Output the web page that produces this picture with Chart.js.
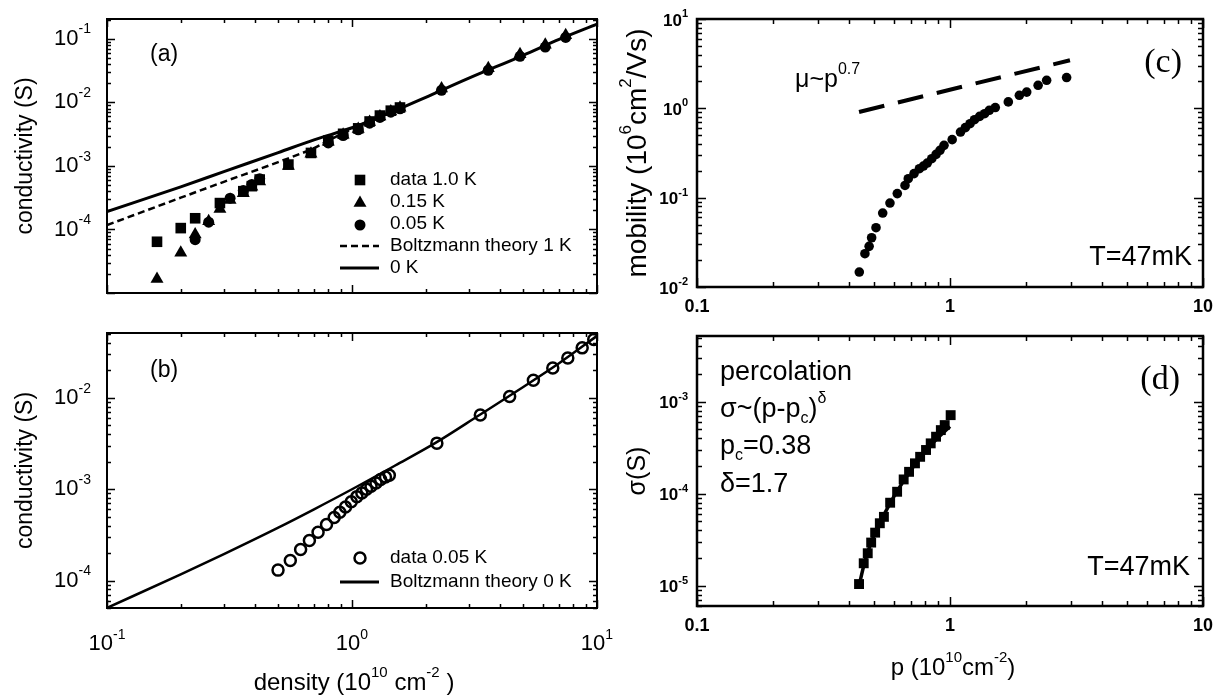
<!DOCTYPE html>
<html>
<head>
<meta charset="utf-8">
<script src="https://cdn.jsdelivr.net/npm/chart.js@4.4.1/dist/chart.umd.min.js"></script>
<style>
  html, body { margin: 0; padding: 0; background: #fff; }
  #wrap { position: relative; width: 1225px; height: 696px; overflow: hidden; }
  #wrap canvas { position: absolute; left: 0; top: 0; }
</style>
</head>
<body>
<div id="wrap">
  <canvas id="panel-a" width="1225" height="696"></canvas>
  <canvas id="panel-b" width="1225" height="696"></canvas>
  <canvas id="panel-c" width="1225" height="696"></canvas>
  <canvas id="panel-d" width="1225" height="696"></canvas>
</div>
<script>
// ---- panel (a): conductivity vs density, three temperatures + Boltzmann theory
const aDensity1K = [0.16, 0.20, 0.229, 0.289, 0.36, 0.39, 0.42, 0.55, 0.68, 0.80, 0.92, 1.06, 1.18, 1.30, 1.44, 1.57];
const aCond1K = [6.4e-5, 1.05e-4, 1.5e-4, 2.6e-4, 4.0e-4, 4.8e-4, 6.1e-4, 1.05e-3, 1.6e-3, 2.5e-3, 3.2e-3, 3.9e-3, 5.0e-3, 6.2e-3, 7.4e-3, 8.3e-3];
const aDensity015K = [0.16, 0.20, 0.229, 0.26, 0.289, 0.318, 0.36, 0.39, 0.42, 0.55, 0.68, 0.80, 0.92, 1.06, 1.18, 1.30, 1.44, 1.57, 2.32, 3.60, 4.85, 6.15, 7.45];
const aCond015K = [1.66e-5, 4.3e-5, 8.3e-5, 1.35e-4, 2.1e-4, 2.9e-4, 3.7e-4, 4.7e-4, 5.7e-4, 1.0e-3, 1.55e-3, 2.4e-3, 3.1e-3, 3.8e-3, 4.9e-3, 6.0e-3, 7.2e-3, 8.2e-3, 0.0165, 0.0345, 0.057, 0.081, 0.114];
const aDensity005K = [0.229, 0.26, 0.318, 0.36, 0.39, 0.42, 0.80, 0.92, 1.06, 1.18, 1.30, 1.44, 1.57, 2.32, 3.60, 4.85, 6.15, 7.45];
const aCond005K = [6.9e-5, 1.3e-4, 3.1e-4, 4.1e-4, 5.1e-4, 6.3e-4, 2.3e-3, 3.0e-3, 3.7e-3, 4.7e-3, 5.8e-3, 7.0e-3, 7.9e-3, 0.0155, 0.032, 0.053, 0.074, 0.105];
const aTheory1KX = [0.1, 0.2, 0.3, 0.5, 0.7, 0.85, 1.0, 1.2, 1.5];
const aTheory1KY = [1.17e-4, 3.16e-4, 5.62e-4, 1.15e-3, 1.91e-3, 2.82e-3, 3.80e-3, 5.25e-3, 7.41e-3];
const aTheory0KX = [0.1, 0.2, 0.3, 0.5, 0.7, 1.0, 1.5, 2.0, 3.0, 5.0, 7.0, 10];
const aTheory0KY = [1.91e-4, 4.68e-4, 8.13e-4, 1.62e-3, 2.57e-3, 3.98e-3, 7.41e-3, 0.0120, 0.0240, 0.0550, 0.0977, 0.170];

// ---- panel (b): 0.05 K data vs Boltzmann theory 0 K
const bDensity = [0.499, 0.560, 0.617, 0.670, 0.727, 0.787, 0.846, 0.892, 0.941, 0.993, 1.047, 1.097, 1.146, 1.196, 1.253, 1.309, 1.37, 1.42, 2.22, 3.34, 4.4, 5.5, 6.6, 7.6, 8.7, 9.7];
const bCond = [1.30e-4, 1.66e-4, 2.19e-4, 2.75e-4, 3.38e-4, 4.1e-4, 4.9e-4, 5.6e-4, 6.4e-4, 7.3e-4, 8.3e-4, 9.1e-4, 1.0e-3, 1.08e-3, 1.17e-3, 1.28e-3, 1.36e-3, 1.42e-3, 3.2e-3, 6.5e-3, 0.0104, 0.0156, 0.0213, 0.0274, 0.0354, 0.0436];
const bTheoryX = [0.1, 0.2, 0.3, 0.5, 0.7, 1.0, 1.5, 2.2, 3.3, 5, 7, 10];
const bTheoryY = [5.01e-5, 1.17e-4, 1.95e-4, 3.80e-4, 6.03e-4, 1.0e-3, 1.82e-3, 3.24e-3, 6.46e-3, 0.0132, 0.0240, 0.0479];

// ---- panel (c): mobility vs p at 47 mK
const cDensity = [0.438, 0.461, 0.479, 0.490, 0.510, 0.542, 0.579, 0.619, 0.664, 0.684, 0.721, 0.757, 0.785, 0.813, 0.847, 0.881, 0.913, 0.947, 1.02, 1.10, 1.15, 1.20, 1.25, 1.31, 1.37, 1.43, 1.51, 1.70, 1.88, 2.01, 2.23, 2.41, 2.89];
const cMobility = [0.0147, 0.0236, 0.0285, 0.0356, 0.0461, 0.0673, 0.087, 0.111, 0.137, 0.163, 0.186, 0.211, 0.226, 0.244, 0.273, 0.305, 0.339, 0.385, 0.446, 0.543, 0.608, 0.673, 0.746, 0.813, 0.871, 0.950, 1.02, 1.18, 1.40, 1.52, 1.81, 2.06, 2.21];
const cPowerX = [0.437, 2.98];
const cPowerY = [0.91, 3.45];

// ---- panel (d): percolation fit
const dDensity = [0.437, 0.456, 0.473, 0.488, 0.506, 0.528, 0.548, 0.580, 0.618, 0.656, 0.689, 0.727, 0.762, 0.804, 0.839, 0.881, 0.920, 0.953, 1.006];
const dSigma = [1.04e-5, 1.75e-5, 2.25e-5, 2.94e-5, 3.77e-5, 4.77e-5, 5.6e-5, 7.98e-5, 1.05e-4, 1.43e-4, 1.73e-4, 2.14e-4, 2.52e-4, 2.99e-4, 3.53e-4, 4.17e-4, 4.92e-4, 5.58e-4, 7.16e-4];
const dFitX = [0.437, 0.46, 0.5, 0.55, 0.6, 0.7, 0.8, 0.9, 1.0];
const dFitY = [1.0e-5, 1.8e-5, 3.5e-5, 6.0e-5, 9.3e-5, 1.8e-4, 2.9e-4, 4.1e-4, 5.4e-4];

// tick labels
const abXTickExp = [-1, 0, 1];
const aYTickExp = [-1, -2, -3, -4];
const bYTickExp = [-2, -3, -4];
const cdXTicks = [0.1, 1, 10];
const cdXTickLabels = ['0.1', '1', '10'];
const cYTickExp = [1, 0, -1, -2];
const dYTickExp = [-3, -4, -5];

const SANS = '"Liberation Sans", Arial, Helvetica, sans-serif';
const SERIF = '"Liberation Serif", "Times New Roman", serif';

function pts(xs, ys) {
  return xs.map((x, i) => ({ x: x, y: ys[i] }));
}

// text with superscripts / subscripts, y = vertical middle of the main text
function rich(ctx, parts, x, y, o) {
  const size = o.size;
  const small = o.small || Math.round(size * 0.62);
  const fam = o.family || SANS;
  const wt = o.weight || 'normal';
  const fontOf = (p) => wt + ' ' + (p.sup || p.sub ? small : size) + 'px ' + fam;
  ctx.save();
  ctx.translate(x, y);
  if (o.rotate) ctx.rotate(o.rotate);
  ctx.fillStyle = '#000';
  ctx.textBaseline = 'middle';
  ctx.textAlign = 'left';
  let w = 0;
  parts.forEach((p) => { ctx.font = fontOf(p); p.w = ctx.measureText(p.t).width; w += p.w; });
  let cx = o.align === 'center' ? -w / 2 : o.align === 'right' ? -w : 0;
  parts.forEach((p) => {
    ctx.font = fontOf(p);
    const dy = p.sup ? -size * 0.42 : p.sub ? size * 0.3 : 0;
    ctx.fillText(p.t, cx, dy);
    cx += p.w;
  });
  ctx.restore();
}

function pow10(e) {
  return [{ t: '10' }, { t: String(e), sup: true }];
}

function logTicks(min, max) {
  const out = [];
  for (let e = Math.floor(Math.log10(min)); e <= Math.ceil(Math.log10(max)); e++) {
    for (let k = 1; k < 10; k++) {
      const v = k * Math.pow(10, e);
      if (v >= min * 0.999 && v <= max * 1.001) out.push({ v: v, major: k === 1 });
    }
  }
  return out;
}

// box + inward ticks on all four sides
function drawFrame(chart, o) {
  const { ctx, chartArea: a } = chart;
  const x = chart.scales.x, y = chart.scales.y;
  ctx.save();
  ctx.strokeStyle = '#000';
  ctx.lineWidth = o.tickWidth;
  ctx.beginPath();
  logTicks(x.min, x.max).forEach((t) => {
    const px = Math.round(x.getPixelForValue(t.v)) + 0.5;
    const len = t.major ? o.major : o.minor;
    ctx.moveTo(px, a.bottom); ctx.lineTo(px, a.bottom - len);
    ctx.moveTo(px, a.top); ctx.lineTo(px, a.top + len);
  });
  logTicks(y.min, y.max).forEach((t) => {
    const py = Math.round(y.getPixelForValue(t.v)) + 0.5;
    const len = t.major ? o.major : o.minor;
    ctx.moveTo(a.left, py); ctx.lineTo(a.left + len, py);
    ctx.moveTo(a.right, py); ctx.lineTo(a.right - len, py);
  });
  ctx.stroke();
  ctx.lineWidth = o.frameWidth;
  ctx.strokeRect(a.left, a.top, a.right - a.left, a.bottom - a.top);
  ctx.restore();
}

function marker(ctx, style, x, y, r, filled) {
  ctx.beginPath();
  if (style === 'rect') {
    const s = r * Math.SQRT1_2;
    ctx.rect(x - s, y - s, 2 * s, 2 * s);
  } else if (style === 'triangle') {
    ctx.moveTo(x, y - r);
    ctx.lineTo(x + 0.866 * r, y + 0.5 * r);
    ctx.lineTo(x - 0.866 * r, y + 0.5 * r);
    ctx.closePath();
  } else {
    ctx.arc(x, y, r, 0, Math.PI * 2);
  }
  if (filled) ctx.fill(); else ctx.stroke();
}

function sampleLine(ctx, x0, x1, y, width, dash) {
  ctx.save();
  ctx.lineWidth = width;
  ctx.setLineDash(dash || []);
  ctx.beginPath();
  ctx.moveTo(x0, y); ctx.lineTo(x1, y);
  ctx.stroke();
  ctx.restore();
}

function baseOptions(pad, xr, yr) {
  return {
    responsive: false,
    animation: false,
    events: [],
    layout: { padding: pad },
    plugins: { legend: { display: false }, tooltip: { enabled: false } },
    scales: {
      x: { type: 'logarithmic', min: xr[0], max: xr[1], display: false },
      y: { type: 'logarithmic', min: yr[0], max: yr[1], display: false }
    }
  };
}

// ---------------- (a)
new Chart(document.getElementById('panel-a'), {
  type: 'scatter',
  data: {
    datasets: [
      { data: pts(aDensity1K, aCond1K), pointStyle: 'rect', pointRadius: 7.5, backgroundColor: '#000', borderColor: '#000', borderWidth: 0 },
      { data: pts(aDensity005K, aCond005K), pointStyle: 'circle', pointRadius: 5.5, backgroundColor: '#000', borderColor: '#000', borderWidth: 0 },
      { data: pts(aDensity015K, aCond015K), pointStyle: 'triangle', pointRadius: 7.5, backgroundColor: '#000', borderColor: '#000', borderWidth: 0 },
      { data: pts(aTheory0KX, aTheory0KY), showLine: true, pointRadius: 0, borderColor: '#000', borderWidth: 3, cubicInterpolationMode: 'monotone' },
      { data: pts(aTheory1KX, aTheory1KY), showLine: true, pointRadius: 0, borderColor: '#000', borderWidth: 2.5, borderDash: [7, 4], cubicInterpolationMode: 'monotone' }
    ]
  },
  options: baseOptions({ left: 107, top: 19, right: 628, bottom: 403 }, [0.1, 10], [1e-5, 0.205]),
  plugins: [{
    id: 'frameA',
    afterDraw(chart) {
      const ctx = chart.ctx, y = chart.scales.y, a = chart.chartArea;
      drawFrame(chart, { frameWidth: 2, tickWidth: 1.5, major: 8, minor: 4 });
      aYTickExp.forEach((e) => rich(ctx, pow10(e), a.left - 16, y.getPixelForValue(Math.pow(10, e)), { size: 22, small: 14, align: 'right' }));
      rich(ctx, [{ t: 'conductivity (S)' }], 26, (a.top + a.bottom) / 2, { size: 23, align: 'center', rotate: -Math.PI / 2 });
      rich(ctx, [{ t: '(a)' }], 150, 55, { size: 23 });
      // legend
      ctx.save();
      ctx.fillStyle = '#000'; ctx.strokeStyle = '#000';
      marker(ctx, 'rect', 360, 180, 7.5, true);
      marker(ctx, 'triangle', 360, 203, 7.5, true);
      marker(ctx, 'circle', 360, 225, 5.5, true);
      sampleLine(ctx, 340, 379, 246, 2.5, [7, 4]);
      sampleLine(ctx, 340, 379, 268, 3);
      ctx.restore();
      const legendText = ['data 1.0 K', '0.15 K', '0.05 K', 'Boltzmann theory 1 K', '0 K'];
      legendText.forEach((s, i) => rich(ctx, [{ t: s }], 390, 180 + i * 22, { size: 19 }));
    }
  }]
});

// ---------------- (b)
new Chart(document.getElementById('panel-b'), {
  type: 'scatter',
  data: {
    datasets: [
      { data: pts(bDensity, bCond), pointStyle: 'circle', pointRadius: 5.5, backgroundColor: 'rgba(0,0,0,0)', borderColor: '#000', borderWidth: 2.5 },
      { data: pts(bTheoryX, bTheoryY), showLine: true, pointRadius: 0, borderColor: '#000', borderWidth: 2.5, cubicInterpolationMode: 'monotone' }
    ]
  },
  options: baseOptions({ left: 107, top: 333, right: 628, bottom: 88 }, [0.1, 10], [5e-5, 0.0515]),
  plugins: [{
    id: 'frameB',
    afterDraw(chart) {
      const ctx = chart.ctx, x = chart.scales.x, y = chart.scales.y, a = chart.chartArea;
      drawFrame(chart, { frameWidth: 2, tickWidth: 1.5, major: 8, minor: 4 });
      bYTickExp.forEach((e) => rich(ctx, pow10(e), a.left - 16, y.getPixelForValue(Math.pow(10, e)), { size: 22, small: 14, align: 'right' }));
      abXTickExp.forEach((e) => rich(ctx, pow10(e), x.getPixelForValue(Math.pow(10, e)), a.bottom + 36, { size: 22, small: 14, align: 'center' }));
      rich(ctx, [{ t: 'conductivity (S)' }], 26, (a.top + a.bottom) / 2, { size: 23, align: 'center', rotate: -Math.PI / 2 });
      rich(ctx, [{ t: 'density (10' }, { t: '10', sup: true }, { t: ' cm' }, { t: '-2', sup: true }, { t: ' )' }], 354, 683, { size: 24, small: 15, align: 'center' });
      rich(ctx, [{ t: '(b)' }], 150, 371, { size: 23 });
      ctx.save();
      ctx.strokeStyle = '#000'; ctx.lineWidth = 2.5;
      marker(ctx, 'circle', 360, 558, 5.5, false);
      sampleLine(ctx, 340, 379, 582, 3);
      ctx.restore();
      rich(ctx, [{ t: 'data 0.05 K' }], 390, 558, { size: 19 });
      rich(ctx, [{ t: 'Boltzmann theory 0 K' }], 390, 582, { size: 19 });
    }
  }]
});

// ---------------- (c)
new Chart(document.getElementById('panel-c'), {
  type: 'scatter',
  data: {
    datasets: [
      { data: pts(cDensity, cMobility), pointStyle: 'circle', pointRadius: 4.8, backgroundColor: '#000', borderColor: '#000', borderWidth: 0 },
      { data: pts(cPowerX, cPowerY), showLine: true, pointRadius: 0, borderColor: '#000', borderWidth: 4, borderDash: [26, 14] }
    ]
  },
  options: baseOptions({ left: 697, top: 19, right: 22, bottom: 409 }, [0.1, 10], [0.01, 10]),
  plugins: [{
    id: 'frameC',
    afterDraw(chart) {
      const ctx = chart.ctx, x = chart.scales.x, y = chart.scales.y, a = chart.chartArea;
      drawFrame(chart, { frameWidth: 2.5, tickWidth: 1.5, major: 9, minor: 5 });
      cYTickExp.forEach((e) => rich(ctx, pow10(e), a.left - 9, y.getPixelForValue(Math.pow(10, e)) + 2, { size: 17, small: 11, weight: 'bold', align: 'right' }));
      cdXTicks.forEach((v, i) => rich(ctx, [{ t: cdXTickLabels[i] }], x.getPixelForValue(v), a.bottom + 20, { size: 18, weight: 'bold', align: 'center' }));
      rich(ctx, [{ t: 'mobility (10' }, { t: '6', sup: true }, { t: 'cm' }, { t: '2', sup: true }, { t: '/Vs)' }], 638, (a.top + a.bottom) / 2, { size: 28, small: 17, align: 'center', rotate: -Math.PI / 2 });
      rich(ctx, [{ t: 'μ~p' }, { t: '0.7', sup: true }], 795, 80, { size: 25, small: 16 });
      rich(ctx, [{ t: '(c)' }], 1182, 63, { size: 34, family: SERIF, align: 'right' });
      rich(ctx, [{ t: 'T=47mK' }], 1192, 258, { size: 27, align: 'right' });
    }
  }]
});

// ---------------- (d)
new Chart(document.getElementById('panel-d'), {
  type: 'scatter',
  data: {
    datasets: [
      { data: pts(dFitX, dFitY), showLine: true, pointRadius: 0, borderColor: '#000', borderWidth: 3.5, cubicInterpolationMode: 'monotone' },
      { data: pts(dDensity, dSigma), pointStyle: 'rect', pointRadius: 7, backgroundColor: '#000', borderColor: '#000', borderWidth: 0 }
    ]
  },
  options: baseOptions({ left: 697, top: 336, right: 22, bottom: 90 }, [0.1, 10], [6e-6, 5.2e-3]),
  plugins: [{
    id: 'frameD',
    afterDraw(chart) {
      const ctx = chart.ctx, x = chart.scales.x, y = chart.scales.y, a = chart.chartArea;
      drawFrame(chart, { frameWidth: 2.5, tickWidth: 1.5, major: 9, minor: 5 });
      dYTickExp.forEach((e) => rich(ctx, pow10(e), a.left - 9, y.getPixelForValue(Math.pow(10, e)) + 2, { size: 17, small: 11, weight: 'bold', align: 'right' }));
      cdXTicks.forEach((v, i) => rich(ctx, [{ t: cdXTickLabels[i] }], x.getPixelForValue(v), a.bottom + 20, { size: 18, weight: 'bold', align: 'center' }));
      rich(ctx, [{ t: 'σ(S)' }], 638, (a.top + a.bottom) / 2, { size: 25, align: 'center', rotate: -Math.PI / 2 });
      rich(ctx, [{ t: 'p (10' }, { t: '10', sup: true }, { t: 'cm' }, { t: '-2', sup: true }, { t: ')' }], 953, 668, { size: 24, small: 15, align: 'center' });
      rich(ctx, [{ t: 'percolation' }], 720, 373, { size: 27 });
      rich(ctx, [{ t: 'σ~(p-p' }, { t: 'c', sub: true }, { t: ')' }, { t: 'δ', sup: true }], 720, 410, { size: 27, small: 16 });
      rich(ctx, [{ t: 'p' }, { t: 'c', sub: true }, { t: '=0.38' }], 720, 447, { size: 27, small: 16 });
      rich(ctx, [{ t: 'δ=1.7' }], 720, 485, { size: 27 });
      rich(ctx, [{ t: '(d)' }], 1180, 380, { size: 34, family: SERIF, align: 'right' });
      rich(ctx, [{ t: 'T=47mK' }], 1190, 568, { size: 27, align: 'right' });
    }
  }]
});
</script>
</body>
</html>
